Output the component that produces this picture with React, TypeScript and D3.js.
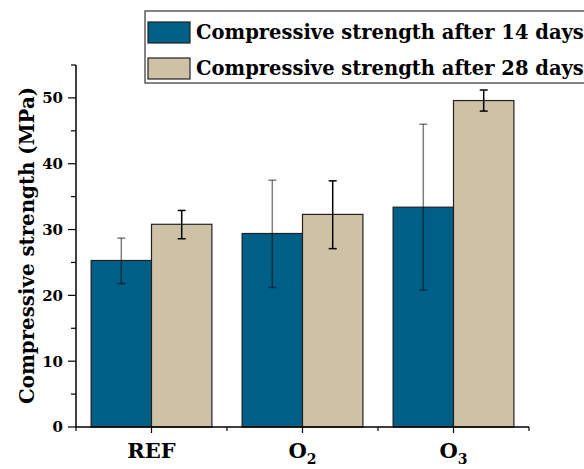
import React from "react";
import * as d3 from "d3";

const categories = ["REF", "O2", "O3"];
const categoryBase = ["REF", "O", "O"];
const categorySub = ["", "2", "3"];
const seriesNames = ["Compressive strength after 14 days", "Compressive strength after 28 days"];
const values14 = [25.3, 29.4, 33.4];
const err14Low = [21.8, 21.2, 20.8];
const err14High = [28.7, 37.5, 46.0];
const values28 = [30.8, 32.3, 49.6];
const err28Low = [28.6, 27.1, 48.0];
const err28High = [32.9, 37.4, 51.2];
const yTicks = [0, 10, 20, 30, 40, 50];
const yMinorTicks = [5, 15, 25, 35, 45, 55];

const colors = ["#005f87", "#cfc1a5"];
const FONT = "'DejaVu Serif', 'Liberation Serif', serif";

export default function App() {
  const W = 584, H = 469;
  const x0 = 76, x1 = 529, yTop = 65, yBottom = 427;
  const x = d3.scaleBand<string>().domain(categories).range([x0, x1]).paddingInner(0).paddingOuter(0);
  const y = d3.scaleLinear().domain([0, 55]).range([yBottom, yTop]);
  const bw = x.bandwidth();
  const barW = bw * 0.4;
  const series = [
    { vals: values14, lo: err14Low, hi: err14High, color: colors[0], off: -barW, errOpacity: 0.5 },
    { vals: values28, lo: err28Low, hi: err28High, color: colors[1], off: 0, errOpacity: 1 },
  ];
  return (
    <svg width={W} height={H} style={{ position: "absolute", left: 0, top: 0, background: "#fff" }} fontFamily={FONT}>
      {series.map((s, si) =>
        categories.map((c, i) => {
          const cx = (x(c) as number) + bw / 2;
          return (
            <rect key={`b${si}-${i}`} x={cx + s.off} y={y(s.vals[i])} width={barW} height={yBottom - y(s.vals[i])}
              fill={s.color} stroke="#222" strokeWidth={1.2} />
          );
        })
      )}
      {series.map((s, si) =>
        categories.map((c, i) => {
          const cx = (x(c) as number) + bw / 2 + s.off + barW / 2;
          return (
            <g key={`e${si}-${i}`} stroke="#000" strokeOpacity={s.errOpacity} strokeWidth={1.5}>
              <line x1={cx} x2={cx} y1={y(s.lo[i])} y2={y(s.hi[i])} />
              <line x1={cx - 4} x2={cx + 4} y1={y(s.lo[i])} y2={y(s.lo[i])} />
              <line x1={cx - 4} x2={cx + 4} y1={y(s.hi[i])} y2={y(s.hi[i])} />
            </g>
          );
        })
      )}
      {/* Y axis */}
      <line x1={x0} x2={x0} y1={yTop} y2={yBottom} stroke="#000" strokeWidth={1.5} />
      {yTicks.map((t) => (
        <g key={`yt${t}`}>
          <line x1={x0 - 8} x2={x0} y1={y(t)} y2={y(t)} stroke="#000" strokeWidth={1.2} />
          <text x={x0 - 13} y={y(t)} dy="0.36em" textAnchor="end" fontWeight="bold" fontSize={15}>{t}</text>
        </g>
      ))}
      {yMinorTicks.map((t) => (
        <line key={`ym${t}`} x1={x0 - 5} x2={x0} y1={y(t)} y2={y(t)} stroke="#000" strokeWidth={1.2} />
      ))}
      {/* X axis */}
      <line x1={x0} x2={x1} y1={yBottom} y2={yBottom} stroke="#000" strokeWidth={1.5} />
      {categories.map((c, i) => {
        const cx = (x(c) as number) + bw / 2;
        return (
          <g key={`xt${c}`}>
            <line x1={cx} x2={cx} y1={yBottom} y2={yBottom + 6} stroke="#000" strokeWidth={1.2} />
            <text x={cx} y={458} textAnchor="middle" fontWeight="bold" fontSize={21}>
              {categoryBase[i]}
              {categorySub[i] && <tspan fontSize={14} dy={6}>{categorySub[i]}</tspan>}
            </text>
          </g>
        );
      })}
      {categories.map((c) => (
        <line key={`xb${c}`} x1={x(c) as number} x2={x(c) as number} y1={yBottom} y2={yBottom + 4} stroke="#000" strokeWidth={1.2} />
      ))}
      <line x1={x1} x2={x1} y1={yBottom} y2={yBottom + 4} stroke="#000" strokeWidth={1.2} />
      {/* Y title */}
      <text transform={`translate(27,245.5) rotate(-90)`} textAnchor="middle" dy="0.35em" fontWeight="bold" fontSize={19.8}>
        Compressive strength (MPa)
      </text>
      {/* Legend */}
      <rect x={145} y={11} width={450} height={72} fill="#fff" stroke="#333" strokeWidth={1.2} />
      {seriesNames.map((n, i) => (
        <g key={`lg${i}`}>
          <rect x={148} y={22 + i * 36} width={42} height={21} fill={colors[i]} stroke="#222" strokeWidth={1.2} />
          <text x={196} y={38.5 + i * 36} fontWeight="bold" fontSize={19.5}>{n}</text>
        </g>
      ))}
    </svg>
  );
}
